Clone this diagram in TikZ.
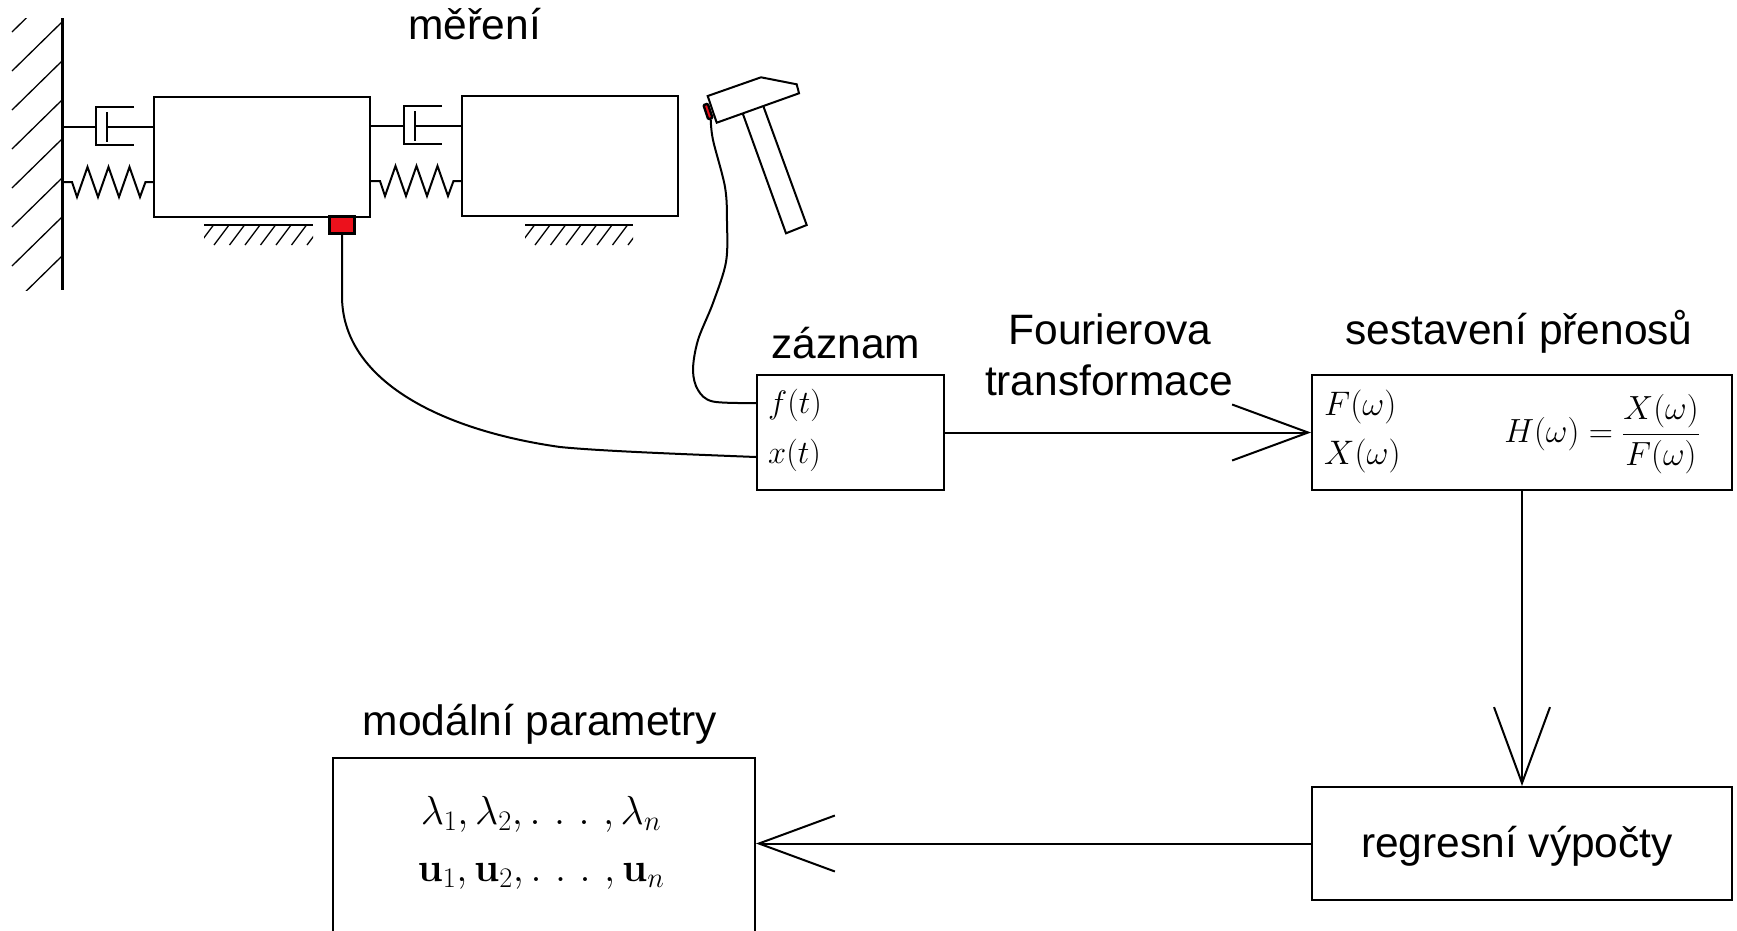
\RequirePackage{fix-cm}
\documentclass[tikz,border=0pt]{standalone}
\usepackage[no-math]{fontspec}
\newfontfamily\sansf{Liberation Sans}
\usetikzlibrary{arrows.meta}
\definecolor{sensorred}{RGB}{236,17,28}

\begin{document}
\begin{tikzpicture}[x=1pt,y=-1pt,
  thinline/.style={line width=1.3pt},
  edge/.style={line width=2pt},
  title/.style={font=\sansf\fontsize{42.5}{50}\selectfont, inner sep=0, anchor=base},
  mathlbl/.style={font=\fontsize{32.5}{39}\selectfont, inner sep=0},
  blk/.style={draw, line width=2pt, inner sep=0, fill=white},
  arr/.style={line width=2pt, -{Straight Barb[length=76pt,width=56pt,line width=2pt]}},
  cable/.style={line width=2pt},
  sensor/.style={draw, fill=sensorred, inner sep=0},
]
\useasboundingbox (0,0) rectangle (1737,930);
\clip (0,0) rectangle (1737,930);

% ---- fixed wall ----
\draw[line width=3pt] (62,18) -- (62,290);
\begin{scope}
  \clip (10,18) rectangle (62,290);
  \foreach \y in {-17,22,...,295} \draw[thinline] (62,\y) -- (12,\y+49);
\end{scope}

% ---- masses ----
\node[blk, minimum width=216pt, minimum height=120pt] (m1) at (262,157) {};
\node[blk, minimum width=216pt, minimum height=120pt] (m2) at (570,156) {};

% ---- damper and spring between each pair of bodies ----
\foreach \sx/\sy in {62/97, 370/96} {
  \begin{scope}[shift={(\sx,\sy)}, edge]
    \draw (0,30) -- (34,30);
    \draw (72,10) -- (34,10) -- (34,48) -- (72,48);
    \draw (45,15) -- (45,45);
    \draw (45,30) -- (92,30);
    \draw (0,85) -- (10,85) -- (15,100) -- (25.5,70) -- (36,100) -- (46.5,70)
          -- (57,100) -- (67.5,70) -- (78,100) -- (83.5,85) -- (92,85);
  \end{scope}
}

% ---- ground under the masses ----
\draw[edge] (204,225) -- (313,225);
\begin{scope}
  \clip (204,226) rectangle (313,246);
  \foreach \b in {198.5,214,...,310} \draw[thinline] (\b+15,225) -- (\b,245);
\end{scope}
\draw[edge] (525,225) -- (633,225);
\begin{scope}
  \clip (525,226) rectangle (633,246);
  \foreach \b in {519.5,535,...,631} \draw[thinline] (\b+15,225) -- (\b,245);
\end{scope}

% ---- accelerometer on the first mass ----
\node[sensor, line width=3pt, minimum width=25pt, minimum height=17pt] (s1) at (342.2,224.8) {};

% ---- impact hammer ----
\draw[edge, fill=white] (742.7,113.4) -- (786,233.3) -- (806.7,225) -- (763.3,106.1);
\draw[edge, fill=white] (707.7,96) -- (761,77.3) -- (796.7,84.3) -- (799,93.3) -- (716.7,122.7) -- cycle;
\node[sensor, line width=2.4pt, rounded corners=1pt, minimum width=4.5pt, minimum height=15pt, rotate=18.6] (hs) at (708,111.5) {};

\node[title] (tmer) at (474.7,39) {měření};

% ---- processing blocks ----
\node[blk, minimum width=187pt, minimum height=115pt] (zaz) at (850.5,432.5) {};
\node[blk, minimum width=420pt, minimum height=115pt] (ses) at (1522,432.5) {};
\node[blk, minimum width=420pt, minimum height=113pt] (reg) at (1522,843.5) {};
\node[blk, minimum width=422pt, minimum height=212pt] (mod) at (544,864) {};

\node[title] (tzaz) at (846,358) {záznam};
\node[title] (tses) at (1519,344) {sestavení přenosů};
\node[title] (tmod) at (540,735) {modální parametry};
\node[title] (tfou1) at (1110,344) {Fourierova};
\node[title] (tfou2) at (1109,395) {transformace};
\node[title] (treg) at (1517,857) {regresní výpočty};

\node[mathlbl, anchor=base west] (ft) at (768,413) {$f(t)$};
\node[mathlbl, anchor=base west] (xt) at (768,463) {$x(t)$};
\node[mathlbl, font=\fontsize{34}{40}\selectfont, anchor=base west] (Fw) at (1324,415) {$F(\omega)$};
\node[mathlbl, font=\fontsize{34}{40}\selectfont, anchor=base west] (Xw) at (1324,464) {$X(\omega)$};
\node[mathlbl, font=\fontsize{33.5}{40}\selectfont, anchor=east] (Hw) at (1700,434) {$\displaystyle H(\omega)=\frac{X(\omega)}{F(\omega)}$};

\node[mathlbl, font=\fontsize{40.5}{48}\selectfont, anchor=base] (lam) at (541,824)
  {$\lambda_1,\lambda_2,\ldotp\mkern3mu\ldotp\mkern3mu\ldotp\mkern3mu,\lambda_n$};
\node[mathlbl, font=\fontsize{40.5}{48}\selectfont, anchor=base] (uu) at (541,881)
  {$\mathbf{u}_1,\mathbf{u}_2,\ldotp\mkern3mu\ldotp\mkern3mu\ldotp\mkern3mu,\mathbf{u}_n$};

% ---- signal cables ----
\draw[cable] plot[smooth, tension=0.55] coordinates {(hs.south) (713,140) (725,187) (727,222)
  (726,262) (713,303) (698,340) (693,370) (698,390) (713,401.5) ([yshift=29.5pt]zaz.west)};
\draw[cable] (s1.south) -- (342,296) .. controls (342,380) and (440,430) .. (560,447)
  .. controls (600,451) and (680,454) .. ([yshift=-24.5pt]zaz.west);

% ---- data flow ----
\draw[arr] (zaz.east) -- (ses.west);
\draw[arr] (ses.south) -- (reg.north);
\draw[arr] (reg.west) -- (mod.east |- reg.west);
\end{tikzpicture}
\end{document}
